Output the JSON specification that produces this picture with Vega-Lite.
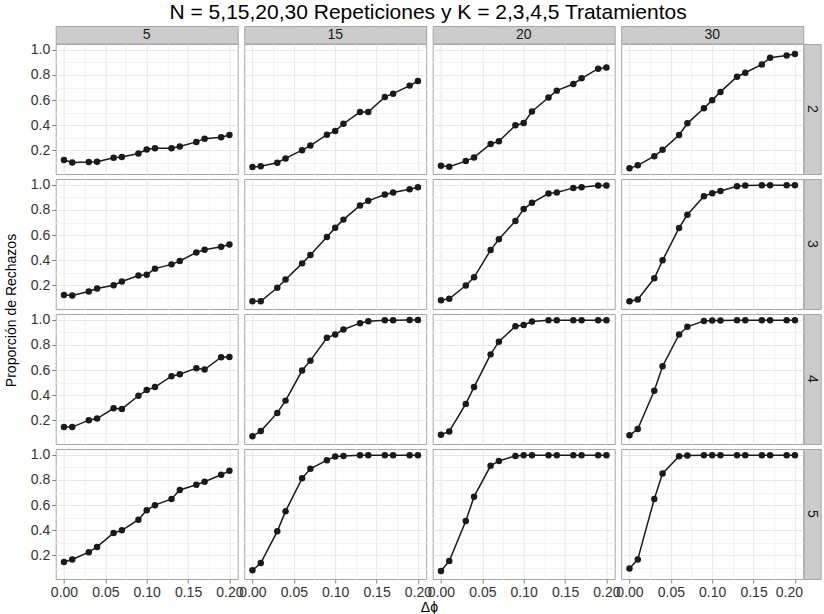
{
"$schema": "https://vega.github.io/schema/vega-lite/v6.json",
"padding": {"left": 3, "top": 1, "right": 0, "bottom": 0},
"title": {"text": "N = 5,15,20,30 Repeticiones y K = 2,3,4,5 Tratamientos", "font": "Liberation Sans", "fontSize": 21, "fontWeight": "normal", "color": "#000000", "anchor": "middle", "offset": 3, "dx": 16},
"config": {
  "view": {"stroke": "#A6A6A6", "strokeWidth": 1},
  "axis": {"labelFont": "Liberation Sans", "labelFontSize": 14, "labelColor": "#333333", "tickSize": 4, "tickWidth": 1, "labelPadding": 2, "titleFont": "Liberation Sans", "titleFontSize": 14, "titleFontWeight": "normal", "titleColor": "#000000", "gridWidth": 1, "labelFlush": false, "labelOverlap": false}
},
"datasets": {"d": [
{"N":5,"K":2,"x":0,"y":0.121},{"N":5,"K":2,"x":0.01,"y":0.102},{"N":5,"K":2,"x":0.03,"y":0.105},{"N":5,"K":2,"x":0.04,"y":0.108},{"N":5,"K":2,"x":0.06,"y":0.139},{"N":5,"K":2,"x":0.07,"y":0.145},{"N":5,"K":2,"x":0.09,"y":0.174},{"N":5,"K":2,"x":0.1,"y":0.205},{"N":5,"K":2,"x":0.11,"y":0.216},{"N":5,"K":2,"x":0.13,"y":0.216},{"N":5,"K":2,"x":0.14,"y":0.229},{"N":5,"K":2,"x":0.16,"y":0.266},{"N":5,"K":2,"x":0.17,"y":0.292},{"N":5,"K":2,"x":0.19,"y":0.303},{"N":5,"K":2,"x":0.2,"y":0.321},
{"N":15,"K":2,"x":0,"y":0.065},{"N":15,"K":2,"x":0.01,"y":0.071},{"N":15,"K":2,"x":0.03,"y":0.1},{"N":15,"K":2,"x":0.04,"y":0.134},{"N":15,"K":2,"x":0.06,"y":0.2},{"N":15,"K":2,"x":0.07,"y":0.237},{"N":15,"K":2,"x":0.09,"y":0.324},{"N":15,"K":2,"x":0.1,"y":0.353},{"N":15,"K":2,"x":0.11,"y":0.411},{"N":15,"K":2,"x":0.13,"y":0.504},{"N":15,"K":2,"x":0.14,"y":0.504},{"N":15,"K":2,"x":0.16,"y":0.625},{"N":15,"K":2,"x":0.17,"y":0.651},{"N":15,"K":2,"x":0.19,"y":0.715},{"N":15,"K":2,"x":0.2,"y":0.752},
{"N":20,"K":2,"x":0,"y":0.076},{"N":20,"K":2,"x":0.01,"y":0.068},{"N":20,"K":2,"x":0.03,"y":0.113},{"N":20,"K":2,"x":0.04,"y":0.142},{"N":20,"K":2,"x":0.06,"y":0.25},{"N":20,"K":2,"x":0.07,"y":0.271},{"N":20,"K":2,"x":0.09,"y":0.398},{"N":20,"K":2,"x":0.1,"y":0.417},{"N":20,"K":2,"x":0.11,"y":0.509},{"N":20,"K":2,"x":0.13,"y":0.62},{"N":20,"K":2,"x":0.14,"y":0.675},{"N":20,"K":2,"x":0.16,"y":0.728},{"N":20,"K":2,"x":0.17,"y":0.773},{"N":20,"K":2,"x":0.19,"y":0.85},{"N":20,"K":2,"x":0.2,"y":0.86},
{"N":30,"K":2,"x":0,"y":0.055},{"N":30,"K":2,"x":0.01,"y":0.079},{"N":30,"K":2,"x":0.03,"y":0.152},{"N":30,"K":2,"x":0.04,"y":0.203},{"N":30,"K":2,"x":0.06,"y":0.321},{"N":30,"K":2,"x":0.07,"y":0.414},{"N":30,"K":2,"x":0.09,"y":0.535},{"N":30,"K":2,"x":0.1,"y":0.599},{"N":30,"K":2,"x":0.11,"y":0.665},{"N":30,"K":2,"x":0.13,"y":0.786},{"N":30,"K":2,"x":0.14,"y":0.818},{"N":30,"K":2,"x":0.16,"y":0.884},{"N":30,"K":2,"x":0.17,"y":0.937},{"N":30,"K":2,"x":0.19,"y":0.955},{"N":30,"K":2,"x":0.2,"y":0.968},
{"N":5,"K":3,"x":0,"y":0.121},{"N":5,"K":3,"x":0.01,"y":0.118},{"N":5,"K":3,"x":0.03,"y":0.15},{"N":5,"K":3,"x":0.04,"y":0.174},{"N":5,"K":3,"x":0.06,"y":0.2},{"N":5,"K":3,"x":0.07,"y":0.229},{"N":5,"K":3,"x":0.09,"y":0.277},{"N":5,"K":3,"x":0.1,"y":0.284},{"N":5,"K":3,"x":0.11,"y":0.332},{"N":5,"K":3,"x":0.13,"y":0.366},{"N":5,"K":3,"x":0.14,"y":0.393},{"N":5,"K":3,"x":0.16,"y":0.461},{"N":5,"K":3,"x":0.17,"y":0.483},{"N":5,"K":3,"x":0.19,"y":0.506},{"N":5,"K":3,"x":0.2,"y":0.525},
{"N":15,"K":3,"x":0,"y":0.071},{"N":15,"K":3,"x":0.01,"y":0.071},{"N":15,"K":3,"x":0.03,"y":0.179},{"N":15,"K":3,"x":0.04,"y":0.245},{"N":15,"K":3,"x":0.06,"y":0.374},{"N":15,"K":3,"x":0.07,"y":0.44},{"N":15,"K":3,"x":0.09,"y":0.585},{"N":15,"K":3,"x":0.1,"y":0.659},{"N":15,"K":3,"x":0.11,"y":0.723},{"N":15,"K":3,"x":0.13,"y":0.836},{"N":15,"K":3,"x":0.14,"y":0.873},{"N":15,"K":3,"x":0.16,"y":0.923},{"N":15,"K":3,"x":0.17,"y":0.939},{"N":15,"K":3,"x":0.19,"y":0.966},{"N":15,"K":3,"x":0.2,"y":0.982},
{"N":20,"K":3,"x":0,"y":0.079},{"N":20,"K":3,"x":0.01,"y":0.092},{"N":20,"K":3,"x":0.03,"y":0.197},{"N":20,"K":3,"x":0.04,"y":0.263},{"N":20,"K":3,"x":0.06,"y":0.48},{"N":20,"K":3,"x":0.07,"y":0.567},{"N":20,"K":3,"x":0.09,"y":0.712},{"N":20,"K":3,"x":0.1,"y":0.807},{"N":20,"K":3,"x":0.11,"y":0.857},{"N":20,"K":3,"x":0.13,"y":0.931},{"N":20,"K":3,"x":0.14,"y":0.939},{"N":20,"K":3,"x":0.16,"y":0.976},{"N":20,"K":3,"x":0.17,"y":0.982},{"N":20,"K":3,"x":0.19,"y":0.995},{"N":20,"K":3,"x":0.2,"y":0.995},
{"N":30,"K":3,"x":0,"y":0.071},{"N":30,"K":3,"x":0.01,"y":0.086},{"N":30,"K":3,"x":0.03,"y":0.255},{"N":30,"K":3,"x":0.04,"y":0.398},{"N":30,"K":3,"x":0.06,"y":0.657},{"N":30,"K":3,"x":0.07,"y":0.762},{"N":30,"K":3,"x":0.09,"y":0.91},{"N":30,"K":3,"x":0.1,"y":0.934},{"N":30,"K":3,"x":0.11,"y":0.952},{"N":30,"K":3,"x":0.13,"y":0.989},{"N":30,"K":3,"x":0.14,"y":0.995},{"N":30,"K":3,"x":0.16,"y":0.997},{"N":30,"K":3,"x":0.17,"y":0.997},{"N":30,"K":3,"x":0.19,"y":0.997},{"N":30,"K":3,"x":0.2,"y":0.997},
{"N":5,"K":4,"x":0,"y":0.145},{"N":5,"K":4,"x":0.01,"y":0.145},{"N":5,"K":4,"x":0.03,"y":0.2},{"N":5,"K":4,"x":0.04,"y":0.213},{"N":5,"K":4,"x":0.06,"y":0.295},{"N":5,"K":4,"x":0.07,"y":0.29},{"N":5,"K":4,"x":0.09,"y":0.395},{"N":5,"K":4,"x":0.1,"y":0.44},{"N":5,"K":4,"x":0.11,"y":0.464},{"N":5,"K":4,"x":0.13,"y":0.551},{"N":5,"K":4,"x":0.14,"y":0.567},{"N":5,"K":4,"x":0.16,"y":0.615},{"N":5,"K":4,"x":0.17,"y":0.604},{"N":5,"K":4,"x":0.19,"y":0.702},{"N":5,"K":4,"x":0.2,"y":0.704},
{"N":15,"K":4,"x":0,"y":0.071},{"N":15,"K":4,"x":0.01,"y":0.113},{"N":15,"K":4,"x":0.03,"y":0.258},{"N":15,"K":4,"x":0.04,"y":0.356},{"N":15,"K":4,"x":0.06,"y":0.596},{"N":15,"K":4,"x":0.07,"y":0.675},{"N":15,"K":4,"x":0.09,"y":0.857},{"N":15,"K":4,"x":0.1,"y":0.884},{"N":15,"K":4,"x":0.11,"y":0.923},{"N":15,"K":4,"x":0.13,"y":0.974},{"N":15,"K":4,"x":0.14,"y":0.989},{"N":15,"K":4,"x":0.16,"y":0.997},{"N":15,"K":4,"x":0.17,"y":0.997},{"N":15,"K":4,"x":0.19,"y":1.0},{"N":15,"K":4,"x":0.2,"y":1.0},
{"N":20,"K":4,"x":0,"y":0.084},{"N":20,"K":4,"x":0.01,"y":0.11},{"N":20,"K":4,"x":0.03,"y":0.33},{"N":20,"K":4,"x":0.04,"y":0.464},{"N":20,"K":4,"x":0.06,"y":0.725},{"N":20,"K":4,"x":0.07,"y":0.826},{"N":20,"K":4,"x":0.09,"y":0.95},{"N":20,"K":4,"x":0.1,"y":0.96},{"N":20,"K":4,"x":0.11,"y":0.987},{"N":20,"K":4,"x":0.13,"y":0.997},{"N":20,"K":4,"x":0.14,"y":0.997},{"N":20,"K":4,"x":0.16,"y":0.997},{"N":20,"K":4,"x":0.17,"y":0.997},{"N":20,"K":4,"x":0.19,"y":0.997},{"N":20,"K":4,"x":0.2,"y":0.997},
{"N":30,"K":4,"x":0,"y":0.079},{"N":30,"K":4,"x":0.01,"y":0.129},{"N":30,"K":4,"x":0.03,"y":0.435},{"N":30,"K":4,"x":0.04,"y":0.63},{"N":30,"K":4,"x":0.06,"y":0.884},{"N":30,"K":4,"x":0.07,"y":0.945},{"N":30,"K":4,"x":0.09,"y":0.992},{"N":30,"K":4,"x":0.1,"y":0.995},{"N":30,"K":4,"x":0.11,"y":0.995},{"N":30,"K":4,"x":0.13,"y":0.997},{"N":30,"K":4,"x":0.14,"y":0.997},{"N":30,"K":4,"x":0.16,"y":0.997},{"N":30,"K":4,"x":0.17,"y":0.997},{"N":30,"K":4,"x":0.19,"y":0.997},{"N":30,"K":4,"x":0.2,"y":0.997},
{"N":5,"K":5,"x":0,"y":0.145},{"N":5,"K":5,"x":0.01,"y":0.166},{"N":5,"K":5,"x":0.03,"y":0.224},{"N":5,"K":5,"x":0.04,"y":0.266},{"N":5,"K":5,"x":0.06,"y":0.377},{"N":5,"K":5,"x":0.07,"y":0.398},{"N":5,"K":5,"x":0.09,"y":0.483},{"N":5,"K":5,"x":0.1,"y":0.559},{"N":5,"K":5,"x":0.11,"y":0.599},{"N":5,"K":5,"x":0.13,"y":0.649},{"N":5,"K":5,"x":0.14,"y":0.72},{"N":5,"K":5,"x":0.16,"y":0.762},{"N":5,"K":5,"x":0.17,"y":0.786},{"N":5,"K":5,"x":0.19,"y":0.842},{"N":5,"K":5,"x":0.2,"y":0.873},
{"N":15,"K":5,"x":0,"y":0.079},{"N":15,"K":5,"x":0.01,"y":0.137},{"N":15,"K":5,"x":0.03,"y":0.39},{"N":15,"K":5,"x":0.04,"y":0.551},{"N":15,"K":5,"x":0.06,"y":0.813},{"N":15,"K":5,"x":0.07,"y":0.889},{"N":15,"K":5,"x":0.09,"y":0.958},{"N":15,"K":5,"x":0.1,"y":0.987},{"N":15,"K":5,"x":0.11,"y":0.992},{"N":15,"K":5,"x":0.13,"y":0.997},{"N":15,"K":5,"x":0.14,"y":0.997},{"N":15,"K":5,"x":0.16,"y":0.997},{"N":15,"K":5,"x":0.17,"y":0.997},{"N":15,"K":5,"x":0.19,"y":0.997},{"N":15,"K":5,"x":0.2,"y":0.997},
{"N":20,"K":5,"x":0,"y":0.073},{"N":20,"K":5,"x":0.01,"y":0.153},{"N":20,"K":5,"x":0.03,"y":0.472},{"N":20,"K":5,"x":0.04,"y":0.667},{"N":20,"K":5,"x":0.06,"y":0.913},{"N":20,"K":5,"x":0.07,"y":0.952},{"N":20,"K":5,"x":0.09,"y":0.992},{"N":20,"K":5,"x":0.1,"y":0.997},{"N":20,"K":5,"x":0.11,"y":0.997},{"N":20,"K":5,"x":0.13,"y":0.997},{"N":20,"K":5,"x":0.14,"y":0.997},{"N":20,"K":5,"x":0.16,"y":0.997},{"N":20,"K":5,"x":0.17,"y":0.997},{"N":20,"K":5,"x":0.19,"y":0.997},{"N":20,"K":5,"x":0.2,"y":0.997},
{"N":30,"K":5,"x":0,"y":0.094},{"N":30,"K":5,"x":0.01,"y":0.166},{"N":30,"K":5,"x":0.03,"y":0.649},{"N":30,"K":5,"x":0.04,"y":0.852},{"N":30,"K":5,"x":0.06,"y":0.989},{"N":30,"K":5,"x":0.07,"y":0.995},{"N":30,"K":5,"x":0.09,"y":0.997},{"N":30,"K":5,"x":0.1,"y":0.997},{"N":30,"K":5,"x":0.11,"y":0.997},{"N":30,"K":5,"x":0.13,"y":0.997},{"N":30,"K":5,"x":0.14,"y":0.997},{"N":30,"K":5,"x":0.16,"y":0.997},{"N":30,"K":5,"x":0.17,"y":0.997},{"N":30,"K":5,"x":0.19,"y":0.997},{"N":30,"K":5,"x":0.2,"y":0.997}
]},
"spacing": 8.7,
"hconcat": [
  {"width": 18, "height": 569, "view": {"stroke": null}, "data": {"values": [{"t": "Proporción de Rechazos"}]}, "mark": {"type": "text", "font": "Liberation Sans", "fontSize": 14, "color": "#000000", "align": "center", "baseline": "middle", "angle": 270}, "encoding": {"text": {"field": "t"}}},
  {"vconcat": [
    {"vconcat": [
      {"hconcat": [
        {"width": 182, "height": 17.5, "view": {"fill": "#CCCCCC", "stroke": "#A6A6A6"}, "data": {"values": [{"lab": "5"}]}, "mark": {"type": "text", "font": "Liberation Sans", "fontSize": 14, "color": "#1A1A1A", "align": "center", "baseline": "middle"}, "encoding": {"text": {"field": "lab"}}},
        {"width": 182, "height": 17.5, "view": {"fill": "#CCCCCC", "stroke": "#A6A6A6"}, "data": {"values": [{"lab": "15"}]}, "mark": {"type": "text", "font": "Liberation Sans", "fontSize": 14, "color": "#1A1A1A", "align": "center", "baseline": "middle"}, "encoding": {"text": {"field": "lab"}}},
        {"width": 182, "height": 17.5, "view": {"fill": "#CCCCCC", "stroke": "#A6A6A6"}, "data": {"values": [{"lab": "20"}]}, "mark": {"type": "text", "font": "Liberation Sans", "fontSize": 14, "color": "#1A1A1A", "align": "center", "baseline": "middle"}, "encoding": {"text": {"field": "lab"}}},
        {"width": 182, "height": 17.5, "view": {"fill": "#CCCCCC", "stroke": "#A6A6A6"}, "data": {"values": [{"lab": "30"}]}, "mark": {"type": "text", "font": "Liberation Sans", "fontSize": 14, "color": "#1A1A1A", "align": "center", "baseline": "middle"}, "encoding": {"text": {"field": "lab"}}}
      ], "spacing": 4.5},
      {"vconcat": [
        {"hconcat": [
          {"hconcat": [
            {"width":182,"height":130,"data":{"name":"d"},"transform":[{"filter":"datum.N===5&&datum.K===2"}],"encoding":{"x":{"field":"x","type":"quantitative","scale":{"domain":[-0.01,0.21],"nice":false,"zero":false},"axis":{"values":[0,0.025,0.05,0.075,0.1,0.125,0.15,0.175,0.2],"grid":true,"labels":false,"ticks":false,"domain":false,"title":null,"gridColor":{"condition":{"test":"round(datum.value*1000)%50!==0","value":"#F2F2F2"},"value":"#E6E6E6"}}},"y":{"field":"y","type":"quantitative","scale":{"domain":[0.01,1.047],"nice":false,"zero":false},"axis":{"values":[0.1,0.2,0.3,0.4,0.5,0.6,0.7,0.8,0.9,1.0],"grid":true,"domain":false,"title":null,"labelExpr":"round(datum.value*10)%2===0 ? format(datum.value,'.1f') : ''","tickColor":{"condition":{"test":"round(datum.value*10)%2!==0","value":"transparent"},"value":"#7F7F7F"},"gridColor":{"condition":{"test":"round(datum.value*10)%2!==0","value":"#F2F2F2"},"value":"#E6E6E6"}}}},"layer":[{"mark":{"type":"line","color":"#1A1A1A","strokeWidth":1.5},"encoding":{}},{"mark":{"type":"point","filled":true,"color":"#1A1A1A","opacity":1,"size":42},"encoding":{}}]},
            {"width":182,"height":130,"data":{"name":"d"},"transform":[{"filter":"datum.N===15&&datum.K===2"}],"encoding":{"x":{"field":"x","type":"quantitative","scale":{"domain":[-0.01,0.21],"nice":false,"zero":false},"axis":{"values":[0,0.025,0.05,0.075,0.1,0.125,0.15,0.175,0.2],"grid":true,"labels":false,"ticks":false,"domain":false,"title":null,"gridColor":{"condition":{"test":"round(datum.value*1000)%50!==0","value":"#F2F2F2"},"value":"#E6E6E6"}}},"y":{"field":"y","type":"quantitative","scale":{"domain":[0.01,1.047],"nice":false,"zero":false},"axis":{"values":[0.1,0.2,0.3,0.4,0.5,0.6,0.7,0.8,0.9,1.0],"grid":true,"labels":false,"ticks":false,"domain":false,"title":null,"gridColor":{"condition":{"test":"round(datum.value*10)%2!==0","value":"#F2F2F2"},"value":"#E6E6E6"}}}},"layer":[{"mark":{"type":"line","color":"#1A1A1A","strokeWidth":1.5},"encoding":{}},{"mark":{"type":"point","filled":true,"color":"#1A1A1A","opacity":1,"size":42},"encoding":{}}]},
            {"width":182,"height":130,"data":{"name":"d"},"transform":[{"filter":"datum.N===20&&datum.K===2"}],"encoding":{"x":{"field":"x","type":"quantitative","scale":{"domain":[-0.01,0.21],"nice":false,"zero":false},"axis":{"values":[0,0.025,0.05,0.075,0.1,0.125,0.15,0.175,0.2],"grid":true,"labels":false,"ticks":false,"domain":false,"title":null,"gridColor":{"condition":{"test":"round(datum.value*1000)%50!==0","value":"#F2F2F2"},"value":"#E6E6E6"}}},"y":{"field":"y","type":"quantitative","scale":{"domain":[0.01,1.047],"nice":false,"zero":false},"axis":{"values":[0.1,0.2,0.3,0.4,0.5,0.6,0.7,0.8,0.9,1.0],"grid":true,"labels":false,"ticks":false,"domain":false,"title":null,"gridColor":{"condition":{"test":"round(datum.value*10)%2!==0","value":"#F2F2F2"},"value":"#E6E6E6"}}}},"layer":[{"mark":{"type":"line","color":"#1A1A1A","strokeWidth":1.5},"encoding":{}},{"mark":{"type":"point","filled":true,"color":"#1A1A1A","opacity":1,"size":42},"encoding":{}}]},
            {"width":182,"height":130,"data":{"name":"d"},"transform":[{"filter":"datum.N===30&&datum.K===2"}],"encoding":{"x":{"field":"x","type":"quantitative","scale":{"domain":[-0.01,0.21],"nice":false,"zero":false},"axis":{"values":[0,0.025,0.05,0.075,0.1,0.125,0.15,0.175,0.2],"grid":true,"labels":false,"ticks":false,"domain":false,"title":null,"gridColor":{"condition":{"test":"round(datum.value*1000)%50!==0","value":"#F2F2F2"},"value":"#E6E6E6"}}},"y":{"field":"y","type":"quantitative","scale":{"domain":[0.01,1.047],"nice":false,"zero":false},"axis":{"values":[0.1,0.2,0.3,0.4,0.5,0.6,0.7,0.8,0.9,1.0],"grid":true,"labels":false,"ticks":false,"domain":false,"title":null,"gridColor":{"condition":{"test":"round(datum.value*10)%2!==0","value":"#F2F2F2"},"value":"#E6E6E6"}}}},"layer":[{"mark":{"type":"line","color":"#1A1A1A","strokeWidth":1.5},"encoding":{}},{"mark":{"type":"point","filled":true,"color":"#1A1A1A","opacity":1,"size":42},"encoding":{}}]}
          ], "spacing": 4.5},
          {"width": 17, "height": 130, "view": {"fill": "#CCCCCC", "stroke": "#A6A6A6"}, "data": {"values": [{"lab": "2"}]}, "mark": {"type": "text", "font": "Liberation Sans", "fontSize": 14, "color": "#1A1A1A", "align": "center", "baseline": "middle", "angle": 90}, "encoding": {"text": {"field": "lab"}}}
        ], "spacing": -2.5},
        {"hconcat": [
          {"hconcat": [
            {"width":182,"height":130,"data":{"name":"d"},"transform":[{"filter":"datum.N===5&&datum.K===3"}],"encoding":{"x":{"field":"x","type":"quantitative","scale":{"domain":[-0.01,0.21],"nice":false,"zero":false},"axis":{"values":[0,0.025,0.05,0.075,0.1,0.125,0.15,0.175,0.2],"grid":true,"labels":false,"ticks":false,"domain":false,"title":null,"gridColor":{"condition":{"test":"round(datum.value*1000)%50!==0","value":"#F2F2F2"},"value":"#E6E6E6"}}},"y":{"field":"y","type":"quantitative","scale":{"domain":[0.01,1.047],"nice":false,"zero":false},"axis":{"values":[0.1,0.2,0.3,0.4,0.5,0.6,0.7,0.8,0.9,1.0],"grid":true,"domain":false,"title":null,"labelExpr":"round(datum.value*10)%2===0 ? format(datum.value,'.1f') : ''","tickColor":{"condition":{"test":"round(datum.value*10)%2!==0","value":"transparent"},"value":"#7F7F7F"},"gridColor":{"condition":{"test":"round(datum.value*10)%2!==0","value":"#F2F2F2"},"value":"#E6E6E6"}}}},"layer":[{"mark":{"type":"line","color":"#1A1A1A","strokeWidth":1.5},"encoding":{}},{"mark":{"type":"point","filled":true,"color":"#1A1A1A","opacity":1,"size":42},"encoding":{}}]},
            {"width":182,"height":130,"data":{"name":"d"},"transform":[{"filter":"datum.N===15&&datum.K===3"}],"encoding":{"x":{"field":"x","type":"quantitative","scale":{"domain":[-0.01,0.21],"nice":false,"zero":false},"axis":{"values":[0,0.025,0.05,0.075,0.1,0.125,0.15,0.175,0.2],"grid":true,"labels":false,"ticks":false,"domain":false,"title":null,"gridColor":{"condition":{"test":"round(datum.value*1000)%50!==0","value":"#F2F2F2"},"value":"#E6E6E6"}}},"y":{"field":"y","type":"quantitative","scale":{"domain":[0.01,1.047],"nice":false,"zero":false},"axis":{"values":[0.1,0.2,0.3,0.4,0.5,0.6,0.7,0.8,0.9,1.0],"grid":true,"labels":false,"ticks":false,"domain":false,"title":null,"gridColor":{"condition":{"test":"round(datum.value*10)%2!==0","value":"#F2F2F2"},"value":"#E6E6E6"}}}},"layer":[{"mark":{"type":"line","color":"#1A1A1A","strokeWidth":1.5},"encoding":{}},{"mark":{"type":"point","filled":true,"color":"#1A1A1A","opacity":1,"size":42},"encoding":{}}]},
            {"width":182,"height":130,"data":{"name":"d"},"transform":[{"filter":"datum.N===20&&datum.K===3"}],"encoding":{"x":{"field":"x","type":"quantitative","scale":{"domain":[-0.01,0.21],"nice":false,"zero":false},"axis":{"values":[0,0.025,0.05,0.075,0.1,0.125,0.15,0.175,0.2],"grid":true,"labels":false,"ticks":false,"domain":false,"title":null,"gridColor":{"condition":{"test":"round(datum.value*1000)%50!==0","value":"#F2F2F2"},"value":"#E6E6E6"}}},"y":{"field":"y","type":"quantitative","scale":{"domain":[0.01,1.047],"nice":false,"zero":false},"axis":{"values":[0.1,0.2,0.3,0.4,0.5,0.6,0.7,0.8,0.9,1.0],"grid":true,"labels":false,"ticks":false,"domain":false,"title":null,"gridColor":{"condition":{"test":"round(datum.value*10)%2!==0","value":"#F2F2F2"},"value":"#E6E6E6"}}}},"layer":[{"mark":{"type":"line","color":"#1A1A1A","strokeWidth":1.5},"encoding":{}},{"mark":{"type":"point","filled":true,"color":"#1A1A1A","opacity":1,"size":42},"encoding":{}}]},
            {"width":182,"height":130,"data":{"name":"d"},"transform":[{"filter":"datum.N===30&&datum.K===3"}],"encoding":{"x":{"field":"x","type":"quantitative","scale":{"domain":[-0.01,0.21],"nice":false,"zero":false},"axis":{"values":[0,0.025,0.05,0.075,0.1,0.125,0.15,0.175,0.2],"grid":true,"labels":false,"ticks":false,"domain":false,"title":null,"gridColor":{"condition":{"test":"round(datum.value*1000)%50!==0","value":"#F2F2F2"},"value":"#E6E6E6"}}},"y":{"field":"y","type":"quantitative","scale":{"domain":[0.01,1.047],"nice":false,"zero":false},"axis":{"values":[0.1,0.2,0.3,0.4,0.5,0.6,0.7,0.8,0.9,1.0],"grid":true,"labels":false,"ticks":false,"domain":false,"title":null,"gridColor":{"condition":{"test":"round(datum.value*10)%2!==0","value":"#F2F2F2"},"value":"#E6E6E6"}}}},"layer":[{"mark":{"type":"line","color":"#1A1A1A","strokeWidth":1.5},"encoding":{}},{"mark":{"type":"point","filled":true,"color":"#1A1A1A","opacity":1,"size":42},"encoding":{}}]}
          ], "spacing": 4.5},
          {"width": 17, "height": 130, "view": {"fill": "#CCCCCC", "stroke": "#A6A6A6"}, "data": {"values": [{"lab": "3"}]}, "mark": {"type": "text", "font": "Liberation Sans", "fontSize": 14, "color": "#1A1A1A", "align": "center", "baseline": "middle", "angle": 90}, "encoding": {"text": {"field": "lab"}}}
        ], "spacing": -2.5},
        {"hconcat": [
          {"hconcat": [
            {"width":182,"height":130,"data":{"name":"d"},"transform":[{"filter":"datum.N===5&&datum.K===4"}],"encoding":{"x":{"field":"x","type":"quantitative","scale":{"domain":[-0.01,0.21],"nice":false,"zero":false},"axis":{"values":[0,0.025,0.05,0.075,0.1,0.125,0.15,0.175,0.2],"grid":true,"labels":false,"ticks":false,"domain":false,"title":null,"gridColor":{"condition":{"test":"round(datum.value*1000)%50!==0","value":"#F2F2F2"},"value":"#E6E6E6"}}},"y":{"field":"y","type":"quantitative","scale":{"domain":[0.01,1.047],"nice":false,"zero":false},"axis":{"values":[0.1,0.2,0.3,0.4,0.5,0.6,0.7,0.8,0.9,1.0],"grid":true,"domain":false,"title":null,"labelExpr":"round(datum.value*10)%2===0 ? format(datum.value,'.1f') : ''","tickColor":{"condition":{"test":"round(datum.value*10)%2!==0","value":"transparent"},"value":"#7F7F7F"},"gridColor":{"condition":{"test":"round(datum.value*10)%2!==0","value":"#F2F2F2"},"value":"#E6E6E6"}}}},"layer":[{"mark":{"type":"line","color":"#1A1A1A","strokeWidth":1.5},"encoding":{}},{"mark":{"type":"point","filled":true,"color":"#1A1A1A","opacity":1,"size":42},"encoding":{}}]},
            {"width":182,"height":130,"data":{"name":"d"},"transform":[{"filter":"datum.N===15&&datum.K===4"}],"encoding":{"x":{"field":"x","type":"quantitative","scale":{"domain":[-0.01,0.21],"nice":false,"zero":false},"axis":{"values":[0,0.025,0.05,0.075,0.1,0.125,0.15,0.175,0.2],"grid":true,"labels":false,"ticks":false,"domain":false,"title":null,"gridColor":{"condition":{"test":"round(datum.value*1000)%50!==0","value":"#F2F2F2"},"value":"#E6E6E6"}}},"y":{"field":"y","type":"quantitative","scale":{"domain":[0.01,1.047],"nice":false,"zero":false},"axis":{"values":[0.1,0.2,0.3,0.4,0.5,0.6,0.7,0.8,0.9,1.0],"grid":true,"labels":false,"ticks":false,"domain":false,"title":null,"gridColor":{"condition":{"test":"round(datum.value*10)%2!==0","value":"#F2F2F2"},"value":"#E6E6E6"}}}},"layer":[{"mark":{"type":"line","color":"#1A1A1A","strokeWidth":1.5},"encoding":{}},{"mark":{"type":"point","filled":true,"color":"#1A1A1A","opacity":1,"size":42},"encoding":{}}]},
            {"width":182,"height":130,"data":{"name":"d"},"transform":[{"filter":"datum.N===20&&datum.K===4"}],"encoding":{"x":{"field":"x","type":"quantitative","scale":{"domain":[-0.01,0.21],"nice":false,"zero":false},"axis":{"values":[0,0.025,0.05,0.075,0.1,0.125,0.15,0.175,0.2],"grid":true,"labels":false,"ticks":false,"domain":false,"title":null,"gridColor":{"condition":{"test":"round(datum.value*1000)%50!==0","value":"#F2F2F2"},"value":"#E6E6E6"}}},"y":{"field":"y","type":"quantitative","scale":{"domain":[0.01,1.047],"nice":false,"zero":false},"axis":{"values":[0.1,0.2,0.3,0.4,0.5,0.6,0.7,0.8,0.9,1.0],"grid":true,"labels":false,"ticks":false,"domain":false,"title":null,"gridColor":{"condition":{"test":"round(datum.value*10)%2!==0","value":"#F2F2F2"},"value":"#E6E6E6"}}}},"layer":[{"mark":{"type":"line","color":"#1A1A1A","strokeWidth":1.5},"encoding":{}},{"mark":{"type":"point","filled":true,"color":"#1A1A1A","opacity":1,"size":42},"encoding":{}}]},
            {"width":182,"height":130,"data":{"name":"d"},"transform":[{"filter":"datum.N===30&&datum.K===4"}],"encoding":{"x":{"field":"x","type":"quantitative","scale":{"domain":[-0.01,0.21],"nice":false,"zero":false},"axis":{"values":[0,0.025,0.05,0.075,0.1,0.125,0.15,0.175,0.2],"grid":true,"labels":false,"ticks":false,"domain":false,"title":null,"gridColor":{"condition":{"test":"round(datum.value*1000)%50!==0","value":"#F2F2F2"},"value":"#E6E6E6"}}},"y":{"field":"y","type":"quantitative","scale":{"domain":[0.01,1.047],"nice":false,"zero":false},"axis":{"values":[0.1,0.2,0.3,0.4,0.5,0.6,0.7,0.8,0.9,1.0],"grid":true,"labels":false,"ticks":false,"domain":false,"title":null,"gridColor":{"condition":{"test":"round(datum.value*10)%2!==0","value":"#F2F2F2"},"value":"#E6E6E6"}}}},"layer":[{"mark":{"type":"line","color":"#1A1A1A","strokeWidth":1.5},"encoding":{}},{"mark":{"type":"point","filled":true,"color":"#1A1A1A","opacity":1,"size":42},"encoding":{}}]}
          ], "spacing": 4.5},
          {"width": 17, "height": 130, "view": {"fill": "#CCCCCC", "stroke": "#A6A6A6"}, "data": {"values": [{"lab": "4"}]}, "mark": {"type": "text", "font": "Liberation Sans", "fontSize": 14, "color": "#1A1A1A", "align": "center", "baseline": "middle", "angle": 90}, "encoding": {"text": {"field": "lab"}}}
        ], "spacing": -2.5},
        {"hconcat": [
          {"hconcat": [
            {"width":182,"height":130,"data":{"name":"d"},"transform":[{"filter":"datum.N===5&&datum.K===5"}],"encoding":{"x":{"field":"x","type":"quantitative","scale":{"domain":[-0.01,0.21],"nice":false,"zero":false},"axis":{"values":[0,0.025,0.05,0.075,0.1,0.125,0.15,0.175,0.2],"grid":true,"domain":false,"title":null,"labelExpr":"round(datum.value*1000)%50===0 ? format(datum.value,'.2f') : ''","tickColor":{"condition":{"test":"round(datum.value*1000)%50!==0","value":"transparent"},"value":"#7F7F7F"},"gridColor":{"condition":{"test":"round(datum.value*1000)%50!==0","value":"#F2F2F2"},"value":"#E6E6E6"}}},"y":{"field":"y","type":"quantitative","scale":{"domain":[0.01,1.047],"nice":false,"zero":false},"axis":{"values":[0.1,0.2,0.3,0.4,0.5,0.6,0.7,0.8,0.9,1.0],"grid":true,"domain":false,"title":null,"labelExpr":"round(datum.value*10)%2===0 ? format(datum.value,'.1f') : ''","tickColor":{"condition":{"test":"round(datum.value*10)%2!==0","value":"transparent"},"value":"#7F7F7F"},"gridColor":{"condition":{"test":"round(datum.value*10)%2!==0","value":"#F2F2F2"},"value":"#E6E6E6"}}}},"layer":[{"mark":{"type":"line","color":"#1A1A1A","strokeWidth":1.5},"encoding":{}},{"mark":{"type":"point","filled":true,"color":"#1A1A1A","opacity":1,"size":42},"encoding":{}}]},
            {"width":182,"height":130,"data":{"name":"d"},"transform":[{"filter":"datum.N===15&&datum.K===5"}],"encoding":{"x":{"field":"x","type":"quantitative","scale":{"domain":[-0.01,0.21],"nice":false,"zero":false},"axis":{"values":[0,0.025,0.05,0.075,0.1,0.125,0.15,0.175,0.2],"grid":true,"domain":false,"title":null,"labelExpr":"round(datum.value*1000)%50===0 ? format(datum.value,'.2f') : ''","tickColor":{"condition":{"test":"round(datum.value*1000)%50!==0","value":"transparent"},"value":"#7F7F7F"},"gridColor":{"condition":{"test":"round(datum.value*1000)%50!==0","value":"#F2F2F2"},"value":"#E6E6E6"}}},"y":{"field":"y","type":"quantitative","scale":{"domain":[0.01,1.047],"nice":false,"zero":false},"axis":{"values":[0.1,0.2,0.3,0.4,0.5,0.6,0.7,0.8,0.9,1.0],"grid":true,"labels":false,"ticks":false,"domain":false,"title":null,"gridColor":{"condition":{"test":"round(datum.value*10)%2!==0","value":"#F2F2F2"},"value":"#E6E6E6"}}}},"layer":[{"mark":{"type":"line","color":"#1A1A1A","strokeWidth":1.5},"encoding":{}},{"mark":{"type":"point","filled":true,"color":"#1A1A1A","opacity":1,"size":42},"encoding":{}}]},
            {"width":182,"height":130,"data":{"name":"d"},"transform":[{"filter":"datum.N===20&&datum.K===5"}],"encoding":{"x":{"field":"x","type":"quantitative","scale":{"domain":[-0.01,0.21],"nice":false,"zero":false},"axis":{"values":[0,0.025,0.05,0.075,0.1,0.125,0.15,0.175,0.2],"grid":true,"domain":false,"title":null,"labelExpr":"round(datum.value*1000)%50===0 ? format(datum.value,'.2f') : ''","tickColor":{"condition":{"test":"round(datum.value*1000)%50!==0","value":"transparent"},"value":"#7F7F7F"},"gridColor":{"condition":{"test":"round(datum.value*1000)%50!==0","value":"#F2F2F2"},"value":"#E6E6E6"}}},"y":{"field":"y","type":"quantitative","scale":{"domain":[0.01,1.047],"nice":false,"zero":false},"axis":{"values":[0.1,0.2,0.3,0.4,0.5,0.6,0.7,0.8,0.9,1.0],"grid":true,"labels":false,"ticks":false,"domain":false,"title":null,"gridColor":{"condition":{"test":"round(datum.value*10)%2!==0","value":"#F2F2F2"},"value":"#E6E6E6"}}}},"layer":[{"mark":{"type":"line","color":"#1A1A1A","strokeWidth":1.5},"encoding":{}},{"mark":{"type":"point","filled":true,"color":"#1A1A1A","opacity":1,"size":42},"encoding":{}}]},
            {"width":182,"height":130,"data":{"name":"d"},"transform":[{"filter":"datum.N===30&&datum.K===5"}],"encoding":{"x":{"field":"x","type":"quantitative","scale":{"domain":[-0.01,0.21],"nice":false,"zero":false},"axis":{"values":[0,0.025,0.05,0.075,0.1,0.125,0.15,0.175,0.2],"grid":true,"domain":false,"title":null,"labelExpr":"round(datum.value*1000)%50===0 ? format(datum.value,'.2f') : ''","labelOffset":{"condition":{"test":"datum.value > 0.19","value":-6},"value":0},"tickColor":{"condition":{"test":"round(datum.value*1000)%50!==0","value":"transparent"},"value":"#7F7F7F"},"gridColor":{"condition":{"test":"round(datum.value*1000)%50!==0","value":"#F2F2F2"},"value":"#E6E6E6"}}},"y":{"field":"y","type":"quantitative","scale":{"domain":[0.01,1.047],"nice":false,"zero":false},"axis":{"values":[0.1,0.2,0.3,0.4,0.5,0.6,0.7,0.8,0.9,1.0],"grid":true,"labels":false,"ticks":false,"domain":false,"title":null,"gridColor":{"condition":{"test":"round(datum.value*10)%2!==0","value":"#F2F2F2"},"value":"#E6E6E6"}}}},"layer":[{"mark":{"type":"line","color":"#1A1A1A","strokeWidth":1.5},"encoding":{}},{"mark":{"type":"point","filled":true,"color":"#1A1A1A","opacity":1,"size":42},"encoding":{}}]}
          ], "spacing": -5.5},
          {"width": 17, "height": 130, "view": {"fill": "#CCCCCC", "stroke": "#A6A6A6"}, "data": {"values": [{"lab": "5"}]}, "mark": {"type": "text", "font": "Liberation Sans", "fontSize": 14, "color": "#1A1A1A", "align": "center", "baseline": "middle", "angle": 90}, "encoding": {"text": {"field": "lab"}}}
        ], "spacing": -2.5}
      ], "spacing": 2}
    ], "spacing": -2},
    {"width": 747.5, "height": 13, "view": {"stroke": null}, "data": {"values": [{"t": "Δϕ"}]}, "mark": {"type": "text", "font": "Liberation Sans", "fontSize": 14, "color": "#000000", "align": "center", "baseline": "middle"}, "encoding": {"text": {"field": "t"}}}
  ], "spacing": 0}
]
}
